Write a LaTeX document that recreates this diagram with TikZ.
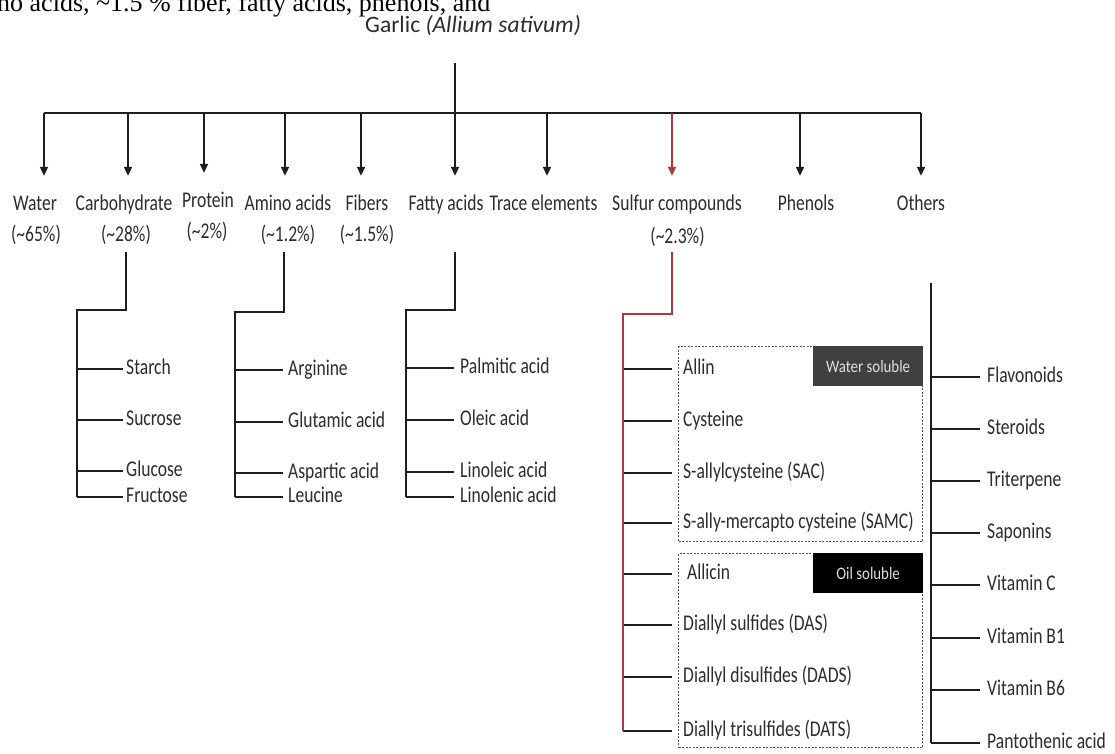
\documentclass[tikz,border=0pt]{standalone}
\usepackage{fontspec}
\setmainfont{Carlito}
\newfontfamily\labfont[FakeStretch=0.78]{Carlito}
\newfontfamily\tagfont[FakeStretch=0.85]{Carlito}
\newfontfamily\serfont{Liberation Serif}
\usetikzlibrary{arrows.meta}
\definecolor{ink}{HTML}{2C2C2C}
\definecolor{lin}{HTML}{1E1E1E}
\definecolor{redl}{HTML}{A83C3C}
\definecolor{tagdark}{HTML}{404040}
\definecolor{dashc}{HTML}{555555}
\begin{document}
\begin{tikzpicture}[x=1pt,y=-1pt,
  lab/.style={font=\labfont\fontsize{22.5}{26}\selectfont,text=ink,inner sep=0pt,anchor=base,text height=14pt},
  itm/.style={font=\labfont\fontsize{22.5}{26}\selectfont,text=ink,inner sep=0pt,anchor=west,text height=14pt,text depth=4pt},
  ln/.style={line width=2pt,draw=lin},
  redln/.style={line width=2pt,draw=redl},
  arr/.style={ln,-{Triangle[length=9pt,width=8pt]},shorten >=20pt},
  dbox/.style={draw=dashc,dash pattern=on 2pt off 1.5pt,line width=1.3pt,inner sep=0pt,anchor=north west},
  tagbox/.style={font=\tagfont\fontsize{17.5}{20}\selectfont,text=white!88!black,minimum width=110pt,minimum height=40pt,inner sep=0pt,anchor=north east}
]
\useasboundingbox (0,0) rectangle (1115,753);
\fill[white] (0,0) rectangle (1115,753);
\clip (0,0) rectangle (1115,753);

% cut-off running text at the very top
\node[font=\serfont\fontsize{26}{30}\selectfont,anchor=base west,inner sep=0pt] (intro) at (-3,11)
  {no acids, \textasciitilde1.5 \% fiber, fatty acids, phenols, and};

% title and stem
\node[font=\fontsize{23.5}{27}\selectfont,text=ink,anchor=base west,inner sep=0pt] (title) at (365,32)
  {Garlic \textit{(Allium sativum)}};
\coordinate (root) at (455,63);

% bar coordinates
\coordinate (bw) at (44,113);
\coordinate (bc) at (128,113);
\coordinate (bp) at (204,113);
\coordinate (ba) at (285,113);
\coordinate (bf) at (361,113);
\coordinate (bt) at (455,113);
\coordinate (be) at (547,113);
\coordinate (bs) at (672,113);
\coordinate (bh) at (800,113);
\coordinate (bo) at (921,113);

\draw[ln] (root) -- (bt);
\draw[ln] (bw) -- (bo);

% category labels
\node[lab] (water)  at (35,210)  {Water};
\node[lab] (water2) at (36,241)  {(\textasciitilde65\%)};
\node[lab] (carb)   at (124,210) {Carbohydrate};
\node[lab] (carb2)  at (126,241) {(\textasciitilde28\%)};
\node[lab] (prot)   at (208,207) {Protein};
\node[lab] (prot2)  at (207,238) {(\textasciitilde2\%)};
\node[lab] (amino)  at (288,210) {Amino acids};
\node[lab] (amino2) at (288,241) {(\textasciitilde1.2\%)};
\node[lab] (fib)    at (367,210) {Fibers};
\node[lab] (fib2)   at (367,241) {(\textasciitilde1.5\%)};
\node[lab] (fatty)  at (446,210) {Fatty acids};
\node[lab] (trace)  at (543.5,210) {Trace elements};
\node[lab] (sulf)   at (677,210) {Sulfur compounds};
\node[lab] (sulf2)  at (677.5,243) {(\textasciitilde2.3\%)};
\node[lab] (phen)   at (806,210) {Phenols};
\node[lab] (oth)    at (921,210) {Others};

% arrows
\draw[arr] (bw) -- (bw |- water.north);
\draw[arr] (bc) -- (bc |- carb.north);
\draw[arr] (bp) -- (bp |- prot.north);
\draw[arr] (ba) -- (ba |- amino.north);
\draw[arr] (bf) -- (bf |- fib.north);
\draw[arr] (bt) -- (bt |- fatty.north);
\draw[arr] (be) -- (be |- trace.north);
\draw[arr,draw=redl] (bs) -- (bs |- sulf.north);
\draw[arr] (bh) -- (bh |- phen.north);
\draw[arr] (bo) -- (bo |- oth.north);

% carbohydrate subtree
\coordinate (c0) at (126,252);
\coordinate (c1) at (126,310);
\coordinate (c2) at (77,310);
\foreach \n/\t/\y in {starch/Starch/369,sucrose/Sucrose/420,glucose/Glucose/471,fructose/Fructose/497}{
  \node[itm] (\n) at (126,\y) {\t};
  \draw[ln,shorten >=3pt] (c2 |- \n.west) -- (\n.west);
}
\draw[ln] (c0) -- (c1) -- (c2) -- (c2 |- fructose.west);

% amino acid subtree
\coordinate (a0) at (284,252);
\coordinate (a1) at (284,312);
\coordinate (a2) at (235,312);
\foreach \n/\t/\y in {arg/Arginine/370,glu/Glutamic acid/422,asp/Aspartic acid/473,leu/Leucine/497}{
  \node[itm] (\n) at (288,\y) {\t};
  \draw[ln,shorten >=5pt] (a2 |- \n.west) -- (\n.west);
}
\draw[ln] (a0) -- (a1) -- (a2) -- (a2 |- leu.west);

% fatty acid subtree
\coordinate (f0) at (455,252);
\coordinate (f1) at (455,310);
\coordinate (f2) at (406,310);
\foreach \n/\t/\y in {palm/Palmitic acid/368,ole/Oleic acid/420,lino/Linoleic acid/472,linol/Linolenic acid/497}{
  \node[itm] (\n) at (460,\y) {\t};
  \draw[ln,shorten >=6pt] (f2 |- \n.west) -- (\n.west);
}
\draw[ln] (f0) -- (f1) -- (f2) -- (f2 |- linol.west);

% sulfur compound boxes
\node[dbox,minimum width=244pt,minimum height=195pt] (wbox) at (678,346) {};
\node[tagbox,fill=tagdark] (wtag) at (wbox.north east) {Water soluble};
\node[dbox,minimum width=244pt,minimum height=194pt] (obox) at (678,553) {};
\node[tagbox,fill=black] (otag) at (obox.north east) {Oil soluble};

% sulfur compound subtree
\coordinate (s0) at (672,252);
\coordinate (s1) at (672,314);
\coordinate (s2) at (623,314);
\foreach \n/\t/\y/\g in {allin/Allin/369/11,cys/Cysteine/421/11,sac/S-allylcysteine (SAC)/473/11,samc/S-ally-mercapto cysteine (SAMC)/523/11,
  allicin/Allicin/574/15,das/Diallyl sulfides (DAS)/625/11,dads/Diallyl disulfides (DADS)/677/11,dats/Diallyl trisulfides (DATS)/731/11}{
  \node[itm] (\n) at (672+\g,\y) {\t};
  \draw[ln,shorten >=\g pt] (s2 |- \n.west) -- (\n.west);
}
\draw[redln] (s0) -- (s1) -- (s2) -- (s2 |- dats.west);

% others list
\coordinate (o0) at (931,283);
\foreach \n/\t/\y in {flav/Flavonoids/377,ster/Steroids/429,trit/Triterpene/481,sapo/Saponins/533,
  vitc/Vitamin C/585,vitba/Vitamin B1/638,vitbb/Vitamin B6/690,pant/Pantothenic acid/743}{
  \node[itm] (\n) at (987,\y) {\t};
  \draw[ln,shorten >=7pt] (o0 |- \n.west) -- (\n.west);
}
\draw[ln] (o0) -- (o0 |- pant.west);
\end{tikzpicture}
\end{document}
